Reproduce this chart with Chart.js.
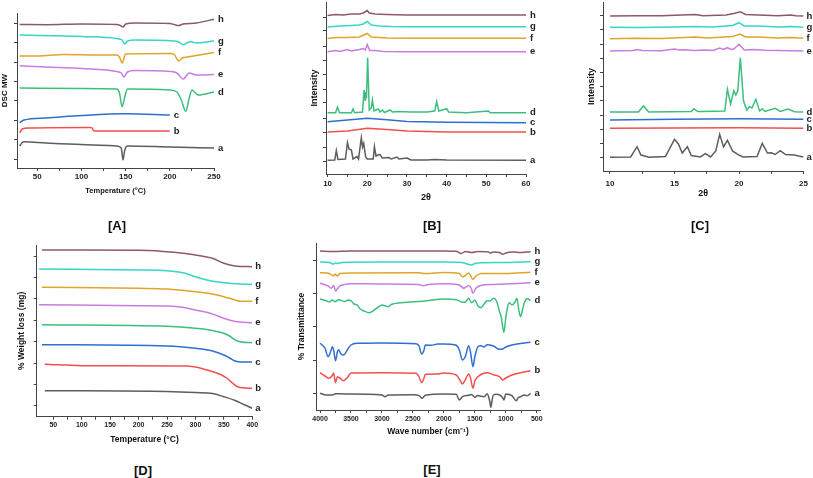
<!DOCTYPE html>
<html>
<head>
<meta charset="utf-8">
<script src="https://cdn.jsdelivr.net/npm/chart.js@4.4.0/dist/chart.umd.min.js"></script>
<style>
body { margin: 0; background: #fff; width: 813px; height: 478px; position: relative; overflow: hidden; font-family: "Liberation Sans", Arial, sans-serif; }
canvas { position: absolute; }
.tag { position: absolute; font-weight: bold; font-size: 13px; color: #111; transform: translate(-50%, -50%); }
</style>
</head>
<body>
<canvas id="cA" width="232" height="200" style="left:0px;top:0px"></canvas>
<canvas id="cB" width="245" height="205" style="left:300px;top:0px"></canvas>
<canvas id="cC" width="253" height="200" style="left:560px;top:0px"></canvas>
<canvas id="cD" width="268" height="217" style="left:0px;top:230px"></canvas>
<canvas id="cE" width="255" height="208" style="left:290px;top:230px"></canvas>
<div class="tag" style="left:117px;top:225px">[A]</div>
<div class="tag" style="left:432px;top:225px">[B]</div>
<div class="tag" style="left:700px;top:225px">[C]</div>
<div class="tag" style="left:143px;top:470px">[D]</div>
<div class="tag" style="left:432px;top:469px">[E]</div>
<script>
// sample labels and colours (same order in every panel)
const sampleNames = ["a", "b", "c", "d", "e", "f", "g", "h"];
const sampleColors = ["#5d5d5d", "#f0504f", "#2f6fd0", "#3cbf7e", "#c77ddf", "#e0a528", "#33d6c9", "#8c5a60"];

// [A] DSC, temperature (°C) vs offset heat flow (arbitrary units)
const dscA = [[30,22],[33,25.5],[35,26.3],[60,25],[100,23.5],[140,22],[145,20],[147,8],[149,18],[152,22],[200,21],[250,20]];
const dscB = [[30,35.3],[33,39],[40,40],[110,40.5],[112,40],[114,37],[150,37],[200,37]];
const dscC = [[30,45.3],[35,48],[60,50],[100,52.5],[150,54.3],[200,53]];
const dscD = [[30,80],[100,79.5],[140,79],[143,75],[146,61.3],[149,71],[152,79],[200,78],[208,76],[213,68],[218,56.7],[222,70],[225,78],[228,76],[232,73],[250,76]];
const dscE = [[30,102.3],[60,101],[100,99.5],[140,96.5],[145,95],[148,91],[152,96],[160,97.5],[200,96.5],[208,95],[215,89],[222,95],[230,93],[250,93.5]];
const dscF = [[30,112],[50,112],[80,113.5],[120,113],[140,113],[143,111],[146,105],[150,114],[200,114.5],[205,113.5],[208,109],[210,107],[214,110],[220,111],[250,115.5]];
const dscG = [[30,133],[100,131.5],[140,129.5],[146,128],[149,124],[152,127],[160,128],[205,127],[210,126],[215,123.3],[220,125.5],[224,126.3],[230,125],[250,127]];
const dscH = [[30,143.5],[60,143.3],[100,144],[140,143.5],[144,142.5],[147,141],[150,144],[160,145],[200,144.5],[205,143.5],[210,142.5],[215,144],[230,145],[250,148.7]];
const dscXTicks = [50, 100, 150, 200, 250];
const dscXMinor = [75, 125, 175, 225];
const dscYTicks = [9, 29, 48, 68, 87, 106, 126, 145];

// [B] XRD 10-60 (2θ vs offset intensity)
const xrdA = [[10,13.7],[11.8,14],[12.2,23.3],[12.6,14.5],[14.5,15],[15,31.3],[15.4,25],[16,24],[16.4,15],[17.4,17.5],[17.8,15],[18.5,36.3],[18.8,27],[19.1,30.7],[19.6,17],[20,15],[21.5,15],[21.8,27.3],[22.2,18],[22.7,19],[23.2,19.5],[23.8,16],[25.5,16.5],[26,15],[27.5,17],[28,15],[30,16],[31,14],[35,14],[37,14.5],[40,14],[60,13.7]];
const xrdB = [[10,42],[15,43],[20,45.7],[25,44.5],[30,43],[40,42],[60,42]];
const xrdC = [[10,52.3],[15,54],[20,55.7],[25,54.3],[30,52.5],[40,51.7],[60,51.3]];
const xrdD = [[10,61.3],[12,61.3],[12.5,67],[13,61.3],[16,61.3],[16.4,65],[16.8,61.3],[18.8,62],[19.2,84],[19.45,74],[19.6,82],[19.8,76],[20.1,116.3],[20.5,64],[21,66],[21.3,74],[21.7,63],[22.8,65],[23.2,62],[23.8,64],[24.3,61.5],[25.8,64],[26.3,62],[28,62.5],[31,62],[35,62],[37,63],[37.5,72.3],[38,63],[40,65.3],[40.5,62],[45,61.3],[50.5,63],[51,61.3],[60,61.3]];
const xrdE = [[10,122.3],[12,123.5],[13,122.5],[15,124.5],[16,123],[18,124.5],[19,125.5],[19.5,124],[20,129.5],[20.6,123.5],[22,123.5],[24,122.6],[30,122.3],[60,122.3]];
const xrdF = [[10,135.5],[12,136.5],[15,136.5],[18,137],[20,140.5],[21,137],[23,136.5],[25,136],[30,135.7],[60,135.7]];
const xrdG = [[10,147],[13,148],[16,148.5],[18,149],[19,150],[20,152.5],[21,149],[23,148],[26,147.5],[30,147.3],[60,147.3]];
const xrdH = [[10,158.5],[12,159.5],[14,159],[16,160],[18,160],[19,161],[20,163.5],[20.5,161],[22,160],[25,159.5],[30,159],[40,159],[60,159]];
const xrdXTicks = [10, 20, 30, 40, 50, 60];
const xrdXMinor = [15, 25, 35, 45, 55];
const xrdYTicks = [13, 27, 42, 56, 71, 85, 100, 114, 128, 143, 157];

// [C] XRD 10-25
const xrdZoomA = [[10,13.7],[11.6,14],[12.1,24.3],[12.4,16],[12.7,15],[13,13.7],[14.3,14.5],[15,31.7],[15.3,27],[15.6,18],[16,24.3],[16.3,15.5],[17,14],[17.4,17.3],[17.8,14],[18.2,20],[18.5,36.7],[18.8,24],[19.1,30.7],[19.5,20],[19.9,16.7],[20.3,14],[21.4,14.5],[21.8,27.7],[22.2,18],[22.5,18.3],[22.8,16.5],[23.2,20.3],[23.6,16.5],[24.3,16],[24.6,15],[25,14]];
const xrdZoomB = [[10,42.7],[15,43],[20,43.3],[25,42.7]];
const xrdZoomC = [[10,51],[15,51.7],[20,52.3],[25,51.7]];
const xrdZoomD = [[10,59],[12.2,59],[12.6,65],[13,59],[16.3,59.5],[16.5,62.3],[16.8,59.5],[17.1,59.5],[18.9,60],[19.1,81.7],[19.35,67],[19.6,80.3],[19.75,76],[19.9,80],[20.1,113.3],[20.35,70],[20.6,61],[20.8,64.3],[21,63],[21.3,71.7],[21.6,60],[21.8,62.3],[22,59.5],[22.8,62.7],[23.2,59.5],[23.8,62],[24.3,59.3],[25,59]];
const xrdZoomE = [[10,120],[11.8,120.5],[12.1,121.5],[12.5,120.5],[14,120.3],[15,122],[15.4,121],[15.9,121.3],[16.5,120.5],[17.4,121],[18,120.5],[18.5,123],[18.8,121.5],[19.1,123.3],[19.4,121.5],[19.6,122],[20,126.7],[20.4,121],[21.2,121.5],[22,120.8],[23,120.5],[25,120]];
const xrdZoomF = [[10,132.3],[12,132.8],[14,132.5],[16.6,134],[17.5,133],[19.5,134.5],[20.1,137],[20.5,134],[21.5,134],[23,133],[24,133.5],[25,132.8]];
const xrdZoomG = [[10,143.7],[12,143.5],[15,144],[16.5,144.5],[18,144],[19.5,145.5],[20,148.3],[20.4,145],[21.5,145],[23,144],[24,144.5],[25,143.8]];
const xrdZoomH = [[10,155],[12,155.3],[14,155.2],[16.6,156.5],[17.2,155.3],[19,156],[19.6,157.5],[20.1,159.3],[20.5,156.5],[21.5,156],[23,155.3],[24,156],[24.4,155.2],[25,155]];
const xrdZoomXTicks = [10, 15, 20, 25];
const xrdZoomXMinor = [12.5, 17.5, 22.5];
const xrdZoomYTicks = [13.7, 27.7, 42, 56, 70.3, 84.3, 98.7, 112.7, 127, 141, 155.3];

// [D] TGA, temperature (°C) vs offset weight
const tgaA = [[35,26],[250,25.2],[300,24.2],[330,23.2],[350,20],[370,16.2],[385,12.2],[400,8.4]];
const tgaB = [[35,52.4],[100,51],[280,50.7],[300,49.7],[320,46.7],[340,43.2],[355,38.7],[365,33.7],[375,29.7],[400,28.4]];
const tgaC = [[30,72],[250,70.7],[300,68.4],[330,65.7],[350,61.7],[360,58.7],[370,55.7],[380,54.7],[400,54.7]];
const tgaD = [[30,92],[250,90.4],[300,88.4],[330,86.2],[350,83.4],[360,80.7],[370,76.7],[380,74.7],[400,74]];
const tgaE = [[25,112],[200,111],[250,110.7],[280,109.2],[300,106.7],[330,102.7],[350,98.4],[370,95.2],[400,94]];
const tgaF = [[30,129.4],[200,128.4],[250,127.7],[300,125],[330,122.7],[350,120],[370,116.7],[380,115.4],[400,115.4]];
const tgaG = [[25,147.7],[200,146.7],[250,146],[280,143.7],[300,140],[320,136.7],[350,134],[380,132.7],[400,132.4]];
const tgaH = [[30,166.7],[100,166.7],[200,166.5],[230,166],[250,165],[300,161.7],[330,158.4],[350,153.4],[370,150.7],[400,150]];
const tgaXTicks = [50, 100, 150, 200, 250, 300, 350, 400];
const tgaXMinor = [75, 125, 175, 225, 275, 325, 375];
const tgaYTicks = [11, 32, 53.4, 74.7, 96.4, 117.7, 139, 160.7];

// [E] FTIR, wave number (cm-1) vs offset transmittance
const ftirA = [[4000,16.7],[3900,15],[3800,15],[3750,16.3],[3600,16],[3000,15],[2950,13.3],[2900,15],[2500,15.3],[2400,14.3],[2350,11.7],[2300,14.7],[2000,16],[1800,15.7],[1750,10],[1700,13.3],[1600,14.7],[1550,15.5],[1500,12.7],[1450,14.5],[1400,13.7],[1350,13.3],[1300,16.3],[1260,9],[1240,2.7],[1220,10],[1200,15],[1150,15.7],[1100,15],[1050,12.3],[1030,10],[1000,16],[900,14.3],[830,9.3],[800,12.3],[760,13.3],[700,15],[650,14.3],[600,16.7]];
const ftirB = [[4000,37.3],[3920,34],[3850,31.7],[3800,34.7],[3780,37],[3750,27.3],[3720,33.3],[3680,32],[3620,29.3],[3550,33],[3500,37],[3000,37.3],[2450,36.7],[2400,33],[2360,27.3],[2320,32],[2300,35.7],[2100,36],[2000,37],[1800,35],[1750,31],[1700,26],[1650,30.7],[1600,36],[1570,32],[1530,21.7],[1500,29],[1450,33.3],[1300,37.3],[1200,35.3],[1100,33.3],[1050,30],[1000,32],[900,35],[600,39.3]];
const ftirC = [[4000,66.7],[3920,62],[3870,53.3],[3830,58],[3800,63.3],[3780,60],[3750,49.3],[3720,58],[3700,60.3],[3660,56],[3620,55],[3550,61],[3500,65],[3400,66.7],[3000,67],[2450,66.3],[2400,64],[2360,56],[2320,60],[2300,65],[2200,64.7],[2100,66],[2000,66],[1800,64.7],[1750,60],[1700,50],[1650,54],[1600,64.3],[1570,58],[1530,43.3],[1500,53],[1450,63.3],[1400,64.3],[1350,63],[1300,65.3],[1200,64],[1100,60.7],[1050,61],[1000,63],[900,65],[600,67.7]];
const ftirD = [[4000,111],[3900,109.3],[3850,108],[3800,110],[3760,108.3],[3700,110.3],[3600,108.5],[3550,110],[3500,109.3],[3450,106],[3400,105],[3350,101],[3300,99.3],[3200,97.3],[3100,101],[3000,105],[2950,104.3],[2900,103.3],[2850,105.5],[2700,107.3],[2500,108.3],[2300,109],[2000,111],[1800,110.3],[1700,107.7],[1650,108],[1600,111.7],[1550,107.3],[1500,110],[1450,104.3],[1400,102.3],[1350,106],[1300,109.3],[1250,109],[1200,111.7],[1150,109],[1100,98.3],[1070,92],[1050,83.3],[1030,77.7],[1000,92],[970,103],[940,107.3],[900,105],[850,108],[820,111.7],[790,100],[760,93.3],[730,100],[700,107.3],[650,111.3],[600,109.3]];
const ftirE = [[4000,126.7],[3870,124],[3820,121.7],[3780,124.5],[3750,119],[3720,121],[3680,124],[3600,125.5],[3500,126.3],[3000,126],[2400,125.5],[2330,124.3],[2250,125.5],[2000,126.3],[1750,125],[1680,121.7],[1600,124.5],[1560,122],[1530,116.7],[1480,122],[1400,124.5],[1200,125.5],[1000,126],[600,127.3]];
const ftirF = [[4000,137.3],[3850,136.5],[3780,134],[3760,136],[3720,134],[3680,136.5],[3500,137],[2400,137.2],[2300,136.5],[2000,137.5],[1750,136.5],[1700,133.3],[1650,134.5],[1600,137],[1530,130.7],[1480,134],[1400,136.5],[1000,136.5],[600,137.7]];
const ftirG = [[4000,148],[3850,147.5],[3780,146],[3750,147],[3720,146.5],[3650,147.5],[3500,147.8],[3000,148],[2000,148],[1700,147.5],[1650,146.5],[1550,145],[1500,146.5],[1400,147.3],[1000,147.5],[600,148.3]];
const ftirH = [[4000,159],[3800,158.5],[3500,159],[3000,159],[2000,159],[1800,158.7],[1720,156.5],[1650,158.5],[1550,157.5],[1450,158.5],[1280,158],[1250,157],[1200,158],[1100,157.5],[1050,155.7],[1000,157],[900,158],[750,157.5],[600,158.3]];
const ftirXTicks = [500, 1000, 1500, 2000, 2500, 3000, 3500, 4000];
const ftirXMinor = [750, 1250, 1750, 2250, 2750, 3250, 3750];
const ftirYTicks = [16.7, 49.3, 83.3, 116.7, 149.3];

const fontFamily = "'Liberation Sans', Arial, sans-serif";

// draws a, b, c ... next to the last point of each curve
const endLabels = {
    id: "endLabels",
    afterDatasetsDraw(chart, args, opts) {
        const ctx = chart.ctx;
        ctx.save();
        ctx.font = `bold ${opts.size}px ${fontFamily}`;
        ctx.fillStyle = "#222";
        ctx.textBaseline = "middle";
        ctx.textAlign = "left";
        chart.data.datasets.forEach((ds, i) => {
            const pts = chart.getDatasetMeta(i).data;
            const last = pts[pts.length - 1];
            ctx.fillText(ds.label, last.x + opts.dx, last.y);
        });
        ctx.restore();
    }
};

function makePanel(id, p) {
    const datasets = p.series.map((pts, i) => ({
        label: sampleNames[i],
        data: pts.map(([x, y]) => ({ x: x, y: y })),
        borderColor: sampleColors[i],
        borderWidth: 1.5,
        pointRadius: 0,
        fill: false,
        tension: 0,
        cubicInterpolationMode: p.smooth ? "monotone" : "default"
    }));
    const major = new Set(p.xTicks);
    const allX = p.xTicks.concat(p.xMinor).sort((a, b) => a - b);
    new Chart(document.getElementById(id), {
        type: "line",
        data: { datasets: datasets },
        plugins: [endLabels],
        options: {
            responsive: false,
            animation: false,
            events: [],
            layout: { padding: p.padding },
            plugins: {
                legend: { display: false },
                tooltip: { enabled: false },
                endLabels: { size: p.labelSize, dx: p.labelDx }
            },
            scales: {
                x: {
                    type: "linear",
                    min: p.xMin,
                    max: p.xMax,
                    reverse: !!p.reverse,
                    afterBuildTicks: s => { s.ticks = allX.map(v => ({ value: v })); },
                    afterFit: s => { s.height = p.xHeight; },
                    grid: { display: true, drawOnChartArea: false, drawTicks: true, tickLength: 3, color: "#444" },
                    border: { display: true, color: "#444", width: 1 },
                    ticks: {
                        autoSkip: false, maxRotation: 0, padding: p.xTickPad, color: "#222",
                        font: { family: fontFamily, size: p.tickSize, weight: "bold" },
                        callback: v => major.has(v) ? String(v) : ""
                    },
                    title: {
                        display: true, text: p.xTitle, color: "#111",
                        font: { family: fontFamily, size: p.xTitleSize, weight: "bold" },
                        padding: { top: 0, bottom: p.xTitlePad }
                    }
                },
                y: {
                    type: "linear",
                    min: 0,
                    max: p.yMax,
                    afterBuildTicks: s => { s.ticks = p.yTicks.map(v => ({ value: v })); },
                    afterFit: s => { s.width = p.yWidth; },
                    grid: { display: true, drawOnChartArea: false, drawTicks: true, tickLength: 3, color: "#444" },
                    border: { display: true, color: "#444", width: 1 },
                    ticks: { display: false },
                    title: {
                        display: true, text: p.yTitle, color: "#111",
                        font: { family: fontFamily, size: p.yTitleSize, weight: "bold" },
                        padding: { top: p.yTitlePad, bottom: 0 }
                    }
                }
            }
        }
    });
}

makePanel("cA", {
    series: [dscA, dscB, dscC, dscD, dscE, dscF, dscG, dscH], smooth: true,
    xMin: 27, xMax: 250, xTicks: dscXTicks, xMinor: dscXMinor, yMax: 155, yTicks: dscYTicks,
    padding: { left: 0, top: 13, right: 18, bottom: 0 }, yWidth: 17, xHeight: 32,
    tickSize: 8, xTickPad: 1, xTitle: "Temperature (°C)", xTitleSize: 7.5, xTitlePad: 5,
    yTitle: "DSC MW", yTitleSize: 8, yTitlePad: 0, labelSize: 9.5, labelDx: 4
});
makePanel("cB", {
    series: [xrdA, xrdB, xrdC, xrdD, xrdE, xrdF, xrdG, xrdH], smooth: false,
    xMin: 9.6, xMax: 60, xTicks: xrdXTicks, xMinor: xrdXMinor, yMax: 172, yTicks: xrdYTicks,
    padding: { left: 0, top: 2, right: 19, bottom: 0 }, yWidth: 26, xHeight: 31,
    tickSize: 8, xTickPad: 2, xTitle: "2θ", xTitleSize: 9, xTitlePad: 2.5,
    yTitle: "Intensity", yTitleSize: 9, yTitlePad: 9.5, labelSize: 9.5, labelDx: 4
});
makePanel("cC", {
    series: [xrdZoomA, xrdZoomB, xrdZoomC, xrdZoomD, xrdZoomE, xrdZoomF, xrdZoomG, xrdZoomH], smooth: false,
    xMin: 9.46, xMax: 25, xTicks: xrdZoomXTicks, xMinor: xrdZoomXMinor, yMax: 169, yTicks: xrdZoomYTicks,
    padding: { left: 0, top: 2, right: 8, bottom: 0 }, yWidth: 43, xHeight: 29,
    tickSize: 8, xTickPad: 5, xTitle: "2θ", xTitleSize: 9, xTitlePad: 1.5,
    yTitle: "Intensity", yTitleSize: 9, yTitlePad: 26, labelSize: 9.5, labelDx: 3
});
makePanel("cD", {
    series: [tgaA, tgaB, tgaC, tgaD, tgaE, tgaF, tgaG, tgaH], smooth: true,
    xMin: 20.8, xMax: 400, xTicks: tgaXTicks, xMinor: tgaXMinor, yMax: 171.7, yTicks: tgaYTicks,
    padding: { left: 0, top: 15, right: 15.7, bottom: 0 }, yWidth: 36.7, xHeight: 30.3,
    tickSize: 7, xTickPad: 1.5, xTitle: "Temperature (°C)", xTitleSize: 8.5, xTitlePad: 2,
    yTitle: "% Weight loss (mg)", yTitleSize: 8.5, yTitlePad: 16.5, labelSize: 9.5, labelDx: 3
});
makePanel("cE", {
    series: [ftirA, ftirB, ftirC, ftirD, ftirE, ftirF, ftirG, ftirH], smooth: true, reverse: true,
    xMin: 447, xMax: 4065, xTicks: ftirXTicks, xMinor: ftirXMinor, yMax: 167, yTicks: ftirYTicks,
    padding: { left: 0, top: 13, right: 5, bottom: 0 }, yWidth: 26, xHeight: 28,
    tickSize: 7, xTickPad: 1.5, xTitle: "Wave number (cm⁻¹)", xTitleSize: 8.5, xTitlePad: 1.2,
    yTitle: "% Transmittance", yTitleSize: 8.5, yTitlePad: 6.5, labelSize: 9.5, labelDx: 4
});
</script>
</body>
</html>
